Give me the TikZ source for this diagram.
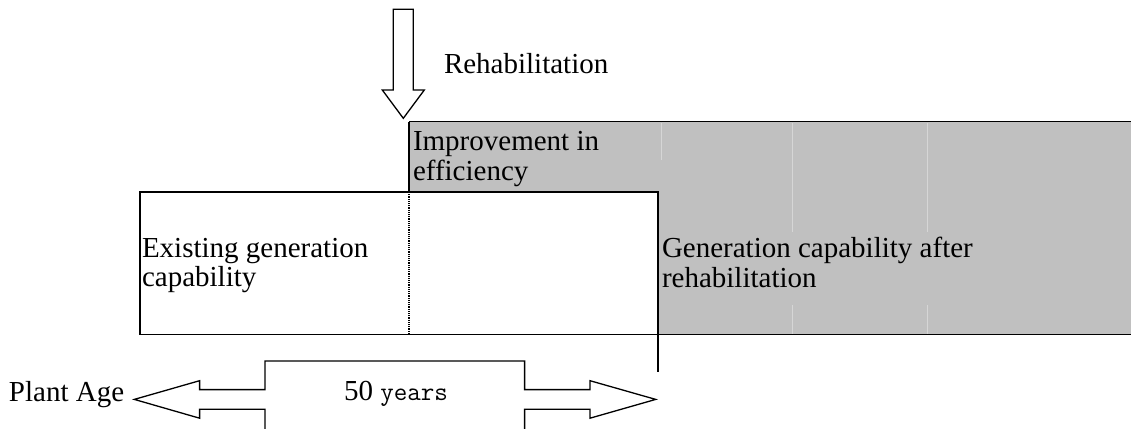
\documentclass[tikz,border=0pt]{standalone}
\usepackage{fontspec}
\setmainfont{Liberation Serif}
\definecolor{boxgray}{HTML}{C0C0C0}
\definecolor{faint}{HTML}{D6D6D6}
\tikzset{
  lbl/.style={anchor=base west, inner sep=0pt, outer sep=0pt, align=left,
    font=\fontsize{29}{29.7}\selectfont},
  borderline/.style={line width=1.3pt, draw=black},
  faintline/.style={line width=0.8pt, draw=faint},
  blockarrow/.style={line width=1.3pt, draw=black, line join=miter},
}
\begin{document}
\begin{tikzpicture}[x=1pt,y=-1pt]
\useasboundingbox (0,0) rectangle (1131,428);
% gray region
\fill[boxgray] (409,121.7) rectangle (1131,334.5);
\draw[faintline] (661,122.5) -- (661,160);
\draw[faintline] (792,122.5) -- (792,232) (792,305) -- (792,334);
\draw[faintline] (927,122.5) -- (927,232) (927,305) -- (927,334);
% white existing box
\path[fill=white, borderline] (140,192) rectangle (658,334.5);
% top and bottom edges of gray region
\draw[borderline] (409,121.7) -- (1131,121.7);
\draw[borderline] (658,334.5) -- (1131,334.5);
% left edge of improvement box
\draw[borderline] (409,121.7) -- (409,192);
\draw[borderline, dash pattern=on 1.2pt off 1pt] (409,192) -- (409,334.5);
% tick below box
\draw[borderline] (658,334.5) -- (658,372);
% rehabilitation arrow
\draw[blockarrow] (393.3,9.3) -- (413.3,9.3) -- (413.3,90) -- (424.3,90)
  -- (403.3,118.3) -- (382.3,90) -- (393.3,90) -- cycle;
% double arrow with centre box
\draw[blockarrow] (265,430) -- (265,409.3) -- (199.6,409.3) -- (199.6,418.2)
  -- (134.3,399.4) -- (199.6,380.7) -- (199.6,389.6) -- (265,389.6)
  -- (265,361) -- (524.6,361) -- (524.6,389.6) -- (590,389.6) -- (590,380.7)
  -- (655.7,399.4) -- (590,418.2) -- (590,409.3) -- (524.6,409.3) -- (524.6,430);
% texts (base anchor of a two-line node is its last line)
\node[lbl] (rehab) at (444,73.3) {Rehabilitation};
\node[lbl] (improve) at (413,180) {Improvement in\\efficiency};
\node[lbl] (existing) at (142,286.8) {Existing generation\\capability};
\node[lbl] (after) at (662,287.3) {Generation capability after\\rehabilitation};
\node[lbl] (age) at (9,401.7) {Plant Age};
\node[lbl] (years) at (344,400) {50 {\ttfamily\fontsize{26.3}{28}\selectfont years}};
\end{tikzpicture}
\end{document}
